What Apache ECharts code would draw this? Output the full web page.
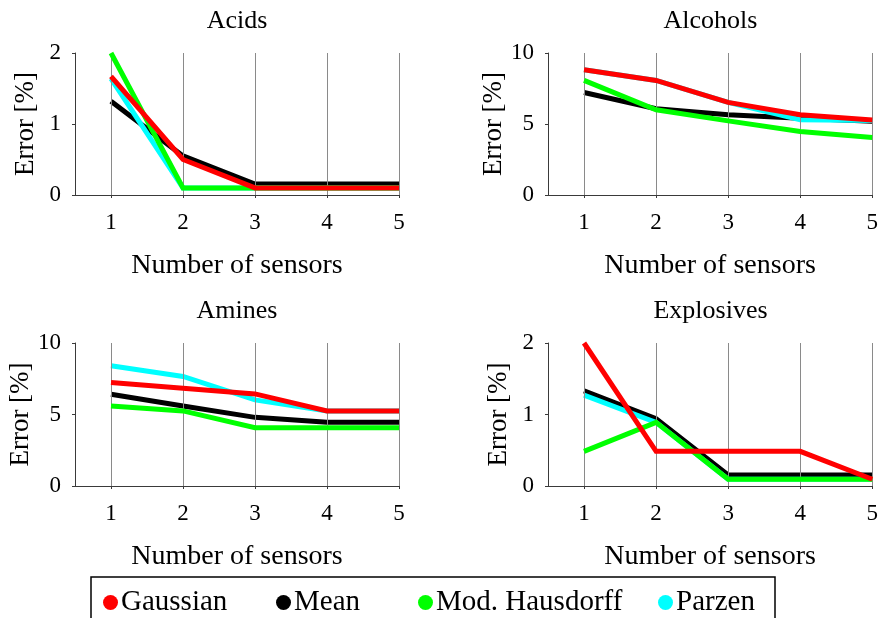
<!DOCTYPE html>
<html>
<head>
<meta charset="utf-8">
<script src="https://cdn.jsdelivr.net/npm/echarts@6/dist/echarts.min.js"></script>
<style>
  html, body { margin: 0; padding: 0; background: #ffffff; }
  #chart { width: 881px; height: 618px; }
</style>
</head>
<body>
<div id="chart"></div>
<script>
// Number of sensors on the x axis
const sensors = [1, 2, 3, 4, 5];

// Panel titles and y-axis ranges
const panelTitles = ['Acids', 'Alcohols', 'Amines', 'Explosives'];
const panelYMax = [2, 10, 10, 2];
const panelYStep = [1, 5, 5, 1];

// Method names (legend order)
const methods = ['Gaussian', 'Mean', 'Mod. Hausdorff', 'Parzen'];
const methodColors = ['#ff0000', '#000000', '#00ff00', '#00ffff'];

// Error [%] per method, one array per panel
const acidsGaussian = [1.67, 0.50, 0.10, 0.10, 0.10];
const acidsMean = [1.32, 0.55, 0.155, 0.155, 0.155];
const acidsHausdorff = [2.0, 0.10, 0.10, 0.10, 0.10];
const acidsParzen = [1.64, 0.10, 0.10, 0.10, 0.10];

const alcoholsGaussian = [8.82, 8.07, 6.52, 5.65, 5.29];
const alcoholsMean = [7.22, 6.07, 5.65, 5.40, 5.20];
const alcoholsHausdorff = [8.07, 6.00, 5.22, 4.47, 4.05];
const alcoholsParzen = [8.82, 8.07, 6.52, 5.30, 5.25];

const aminesGaussian = [7.24, 6.84, 6.44, 5.25, 5.25];
const aminesMean = [6.42, 5.60, 4.80, 4.45, 4.45];
const aminesHausdorff = [5.60, 5.25, 4.07, 4.07, 4.07];
const aminesParzen = [8.41, 7.66, 6.02, 5.25, 5.25];

const explosivesGaussian = [2.0, 0.485, 0.485, 0.485, 0.094];
const explosivesMean = [1.33, 0.94, 0.155, 0.155, 0.155];
const explosivesHausdorff = [0.485, 0.89, 0.094, 0.094, 0.094];
const explosivesParzen = [1.27, 0.89, 0.094, 0.094, 0.094];

const panelData = [
  { 'Gaussian': acidsGaussian, 'Mean': acidsMean, 'Mod. Hausdorff': acidsHausdorff, 'Parzen': acidsParzen },
  { 'Gaussian': alcoholsGaussian, 'Mean': alcoholsMean, 'Mod. Hausdorff': alcoholsHausdorff, 'Parzen': alcoholsParzen },
  { 'Gaussian': aminesGaussian, 'Mean': aminesMean, 'Mod. Hausdorff': aminesHausdorff, 'Parzen': aminesParzen },
  { 'Gaussian': explosivesGaussian, 'Mean': explosivesMean, 'Mod. Hausdorff': explosivesHausdorff, 'Parzen': explosivesParzen }
];

// Drawing order, bottom to top
const drawOrder = ['Mean', 'Parzen', 'Mod. Hausdorff', 'Gaussian'];

const FONT = '"Liberation Serif", "DejaVu Serif", serif';
const AXIS_COLOR = '#3a3a3a';

// Panel layout: [left, top, width, height]
const gridBoxes = [
  [75, 53, 324, 142],
  [548, 53, 325, 142],
  [75, 343, 324, 143],
  [548, 343, 325, 143]
];

const grids = [], xAxes = [], yAxes = [], titles = [], series = [];

gridBoxes.forEach((b, i) => {
  grids.push({ left: b[0], top: b[1], width: b[2], height: b[3], containLabel: false });

  titles.push({
    text: panelTitles[i],
    left: b[0] + b[2] / 2,
    top: b[1] - 45,
    textAlign: 'center',
    padding: 0,
    textStyle: { fontFamily: FONT, fontSize: 26, fontWeight: 'normal', color: '#000' }
  });

  xAxes.push({
    type: 'value',
    gridIndex: i,
    min: 0.5,
    max: 5,
    name: 'Number of sensors',
    nameLocation: 'middle',
    nameGap: 57,
    nameTextStyle: { fontFamily: FONT, fontSize: 28, color: '#000' },
    axisLine: { show: true, onZero: false, lineStyle: { color: AXIS_COLOR, width: 1 } },
    axisTick: { show: true, inside: false, length: 3, customValues: sensors, lineStyle: { color: AXIS_COLOR } },
    axisLabel: { customValues: sensors, margin: 16, fontFamily: FONT, fontSize: 23, color: '#000' },
    splitLine: { show: false }
  });

  yAxes.push({
    type: 'value',
    gridIndex: i,
    min: 0,
    max: panelYMax[i],
    interval: panelYStep[i],
    name: 'Error [%]',
    nameLocation: 'middle',
    nameGap: 36,
    nameTextStyle: { fontFamily: FONT, fontSize: 27, color: '#000' },
    axisLine: { show: true, lineStyle: { color: AXIS_COLOR, width: 1 } },
    axisTick: { show: true, inside: false, length: 3, lineStyle: { color: AXIS_COLOR } },
    axisLabel: { margin: 14, fontFamily: FONT, fontSize: 23, color: '#000' },
    splitLine: { show: false }
  });

  drawOrder.forEach((m, k) => {
    const idx = methods.indexOf(m);
    const s = {
      name: m,
      type: 'line',
      xAxisIndex: i,
      yAxisIndex: i,
      data: sensors.map((x, j) => [x, panelData[i][m][j]]),
      showSymbol: false,
      symbol: 'none',
      lineStyle: { color: methodColors[idx], width: 5, cap: 'butt', join: 'miter' },
      itemStyle: { color: methodColors[idx] },
      z: 3 + k,
      animation: false
    };
    // vertical guide lines at each sensor count, under the curves
    if (k === 0) {
      s.markLine = {
        silent: true,
        symbol: 'none',
        label: { show: false },
        lineStyle: { color: '#8a8a8a', width: 1, type: 'solid' },
        data: sensors.map(x => ({ xAxis: x })),
        animation: false
      };
    }
    series.push(s);
  });
});

// Legend entries placed along the bottom, inside a framed box
const legendLefts = [103, 276, 418, 658];
const legends = methods.map((m, i) => ({
  data: [m],
  left: legendLefts[i],
  top: 588,
  orient: 'horizontal',
  icon: 'circle',
  itemWidth: 15,
  itemHeight: 15,
  itemGap: 0,
  padding: 0,
  selectedMode: false,
  textStyle: { fontFamily: FONT, fontSize: 29, color: '#000', padding: [0, 0, 0, -2] }
}));

const chart = echarts.init(document.getElementById('chart'), null, { renderer: 'canvas' });
chart.setOption({
  animation: false,
  backgroundColor: '#ffffff',
  title: titles,
  grid: grids,
  xAxis: xAxes,
  yAxis: yAxes,
  legend: legends,
  graphic: [{
    type: 'rect',
    shape: { x: 91, y: 577, width: 684, height: 60 },
    style: { fill: 'none', stroke: '#000', lineWidth: 1.5 },
    silent: true,
    z: -1
  }],
  series: series
});
</script>
</body>
</html>
